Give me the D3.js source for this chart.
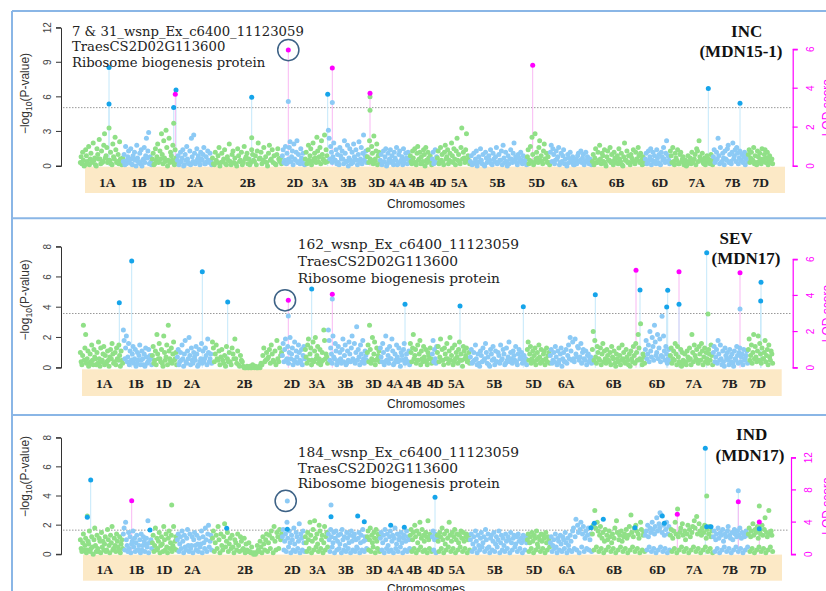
<!DOCTYPE html>
<html>
<head>
<meta charset="utf-8">
<script src="https://cdn.jsdelivr.net/npm/d3@7"></script>
<style>
  body { margin: 0; background: #fff; }
  svg { display: block; }
</style>
</head>
<body>
<script>
// ---- data -------------------------------------------------------------
const chromosomes = ["1A","1B","1D","2A","2B","2D","3A","3B","3D","4A","4B","4D","5A","5B","5D","6A","6B","6D","7A","7B","7D"];
// genetic map length of each chromosome (cM)
const chromLengths = [43,29,25,35,70,23,23,39,13,30,22,5,33,57,23,42,53,25,43,35,25];
// where each chromosome name sits on the map axis (cumulative cM)
const chromLabelPos = [27.3,59,86.7,115,167.7,215,240,268.3,296.7,317.7,336.7,358.3,379.3,417.3,456.7,489.3,536.7,580,616.7,652.7,680.7];

const traitNames = ["INC", "SEV", "IND"];
const environments = ["(MDN15-1)", "(MDN17)", "(MDN17)"];
const markerNotes = [
  ["7 & 31_wsnp_Ex_c6400_11123059", "TraesCS2D02G113600", "Ribosome biogenesis protein"],
  ["162_wsnp_Ex_c6400_11123059", "TraesCS2D02G113600", "Ribosome biogenesis protein"],
  ["184_wsnp_Ex_c6400_11123059", "TraesCS2D02G113600", "Ribosome biogenesis protein"]
];
const pTicks = [[0,3,6,9,12],[0,2,4,6,8],[0,2,4,6,8]];
const lodTicks = [[0,2,4,6],[0,2,4,6],[0,4,8,12]];
const lodThreshold = [3, 3, 3];

// -log10(P) of every marker, in tenths, listed per chromosome in map order
const incBackground = [
  "3 8 2 12 5 0 1 14 9 4 2 17 1 6 11 3 4 20 5 7 1 0 15 10 6 23 6 2 13 3 4 18 28 7 9 16 3 5 33 5 12 2 1 19 8 6 25 14 3 4 10 2 21 6 5 1 7",
  "4 10 1 17 2 5 8 13 3 6 15 2 1 9 6 12 5 0 18 7 4 3 11 2 14 0 5 6 16 3 9 24 7 13 29 2 8 4 1",
  "6 11 1 2 15 5 8 19 3 4 13 6 28 10 2 22 7 4 31 16 0 5 24 3 12 9 5 18 3 1 14 7 2",
  "5 9 1 3 12 4 7 14 0 1 10 5 17 6 3 2 13 1 24 8 4 27 11 2 4 15 6 9 3 1 12 6 5 10 16 2 2 8 4 13 5 3 11 4 1",
  "7 2 1 12 5 3 9 16 0 3 11 4 6 14 2 1 8 5 19 4 1 10 13 3 7 2 0 15 9 4 5 12 1 3 17 6 8 11 2 6 1 3 14 10 5 4 9 1 13 20 6 7 12 2 5 16 4 8 3 0 11 18 5 6 14 3 9 2 1 10 15 6 4 7 2",
  "9 14 3 5 17 2 11 3 6 16 21 4 8 13 1 19 6 5 12 22 3 10 4 2 15 7 5 11 2 1",
  "6 12 2 3 18 5 9 15 1 4 20 6 11 7 3 25 13 4 8 16 2 22 10 6 5 27 3 14 9 4",
  "31 24 6 17 12 3 8 20 5 5 14 2 10 3 1 16 9 6 13 6 2 22 11 4 4 18 0 7 15 5 2 12 3 19 8 6 14 5 1 10 21 4 6 16 2 11 27 5 9 13 3",
  "8 14 3 22 6 5 17 11 2 26 4 6 13 19 1 9 12 4",
  "5 10 1 3 13 4 8 15 0 2 11 5 6 14 3 9 4 1 12 7 5 16 1 2 10 13 4 5 8 1 15 3 6 11 7 2 12 6 3",
  "9 4 2 13 7 3 15 3 1 11 17 5 6 12 2 8 2 4 14 10 0 16 5 3 12 7 6 9 4 1",
  "6 12 2 4 14 3 8",
  "7 13 2 4 16 5 10 3 1 12 18 6 8 14 2 5 11 4 20 9 3 15 6 1 13 24 5 10 4 2 16 33 6 12 7 3 14 28 5 9 5 2",
  "4 9 1 2 11 3 6 13 0 3 8 4 15 5 2 10 1 0 12 7 3 4 9 5 14 2 1 11 6 4 8 16 2 3 10 5 5 13 1 18 7 3 12 4 0 9 2 6 14 6 3 11 20 5 8 3 1 10 7 4 12 5 2 9 4 3 6 1",
  "8 14 2 5 17 4 25 10 1 3 28 6 12 7 3 16 22 5 9 4 2 13 19 6 6 11 3 8 3 1",
  "12 18 4 15 10 2 5 13 6 8 16 1 3 11 4 9 14 2 6 2 0 10 7 3 12 4 5 8 1 1 3 6 2 9 11 4 5 13 3 7 10 1 4 12 5 8 3 2 6 2 1",
  "4 10 1 7 15 3 3 12 5 18 6 2 11 9 4 14 2 0 8 13 5 5 16 3 10 4 1 12 7 6 3 9 2 15 6 4 11 1 0 8 20 5 5 13 3 9 3 1 10 7 4 14 4 2 12 6 5 16 9 3 11 5 1 8 2 4",
  "6 11 2 3 13 5 8 15 1 5 12 4 9 4 2 14 7 3 10 2 1 12 8 5 16 6 3 11 22 4 9 5 2",
  "13 9 3 16 4 1 11 7 5 14 2 2 10 12 4 6 8 1 3 5 0 1 9 3 4 7 2 12 3 5 6 10 1 15 13 4 22 8 6 5 11 3 2 7 1 4 9 5 6 3 2 10 5 1",
  "8 14 3 5 12 6 24 9 2 16 3 4 11 7 1 13 6 5 15 18 3 10 4 2 12 20 6 9 14 4 16 11 2 7 13 5 5 10 3 8 12 1 6 9 4",
  "10 14 3 7 12 5 5 16 2 9 3 1 13 8 4 11 6 2 15 4 6 10 14 3 7 12 1 5 9 4 3 6 2"
];
const sevBackground = [
  "10 4 2 8 28 5 13 22 3 6 11 1 3 9 4 15 5 2 12 7 6 2 10 3 17 6 1 13 4 5 9 14 2 8 3 4 11 5 1 7 12 6 16 9 3 4 10 2 13 6 5 15 8 1 11 5 3",
  "25 18 6 13 21 4 7 16 2 11 4 5 9 14 3 6 12 1 3 10 5 8 15 2 5 11 6 2 9 1 13 7 3 4 12 5 8 6 2",
  "8 14 3 5 11 2 22 9 6 16 6 4 12 3 1 21 10 5 7 15 2 28 11 6 4 13 3 9 17 5 6 10 2",
  "7 12 2 4 10 5 15 6 1 9 18 4 3 11 6 20 8 2 13 5 3 10 7 5 14 9 1 2 12 4 6 16 3 11 4 6 13 8 2 19 10 4 6 9 3",
  "17 13 4 9 15 6 5 11 2 7 12 5 3 8 1 14 6 4 10 4 2 13 9 6 19 6 3 11 2 1 8 5 4 1 0 0 0 1 0 0 1 0 0 2 1 0 1 0 0 0 1 0 3 2 8 13 4 5 10 6 7 12 3 15 9 5 4 11 2 18 6 4 13 8 10",
  "8 16 4 12 19 5 6 14 3 10 20 6 9 13 2 5 17 4 11 7 3 15 10 5 4 12 2 8 14 6",
  "12 7 3 15 19 5 9 13 2 5 17 4 11 20 6 8 14 3 6 12 2 4 10 5 25 18 6 9 7 3",
  "25 18 5 13 9 3 21 7 6 16 11 2 4 14 5 10 6 3 12 19 4 8 15 2 3 11 5 17 9 4 13 21 6 5 16 3 10 27 5 12 7 2 15 9 4 18 6 3 11 8 5",
  "10 15 4 28 12 3 6 20 5 9 17 2 5 13 6 8 11 4",
  "13 7 4 16 10 2 4 21 5 12 8 3 14 6 6 19 11 2 3 9 5 15 7 4 13 5 1 10 8 5 12 16 3 6 9 4 4 11 2",
  "16 10 4 13 22 6 8 12 3 5 15 5 9 18 2 11 6 4 14 7 5 12 4 2 10 8 6 13 6 3",
  "9 18 4 12 6 3 14",
  "10 14 4 7 19 5 12 5 2 13 9 6 16 6 3 11 20 5 8 13 2 4 15 6 10 7 3 12 17 5 9 5 1 14 11 6 8 13 4 6 10 3",
  "7 12 3 4 10 5 15 6 2 9 3 1 11 8 4 13 5 6 16 10 3 7 2 1 12 9 5 14 6 2 11 4 4 10 8 3 15 5 6 12 9 2 3 13 5 7 17 4 10 6 3 11 8 5 14 4 2 9 12 6 7 10 3 5 8 4 6 2",
  "12 17 5 9 14 3 6 11 4 8 13 2 5 10 6 15 7 3 12 4 5 9 11 2 6 13 4 8 10 3",
  "8 12 3 5 10 4 14 7 2 11 3 5 9 13 1 6 10 4 4 12 3 8 15 6 20 11 5 17 6 4 19 9 7 14 13 5 7 16 3 10 12 6 5 11 2 8 9 4 6 7 3",
  "12 24 5 18 7 3 14 10 6 5 13 2 9 16 4 11 6 3 12 8 5 4 10 2 14 7 6 11 3 1 9 6 4 13 8 2 5 15 6 10 4 3 12 7 5 2 9 1 11 6 4 14 8 3 16 10 5 22 13 6 29 5 2 9 7 3",
  "12 18 6 9 15 4 24 11 7 20 14 5 28 17 8 10 22 6 13 19 4 8 34 7 21 11 5 14 9 3 6 12 4",
  "8 13 3 6 11 5 16 9 2 14 7 4 3 12 1 10 5 3 9 4 2 11 7 5 13 6 2 22 10 4 15 8 6 12 5 3 14 9 5 16 11 2 7 13 4 10 6 3 12 9 5 15 8 2",
  "10 14 4 7 12 3 18 9 5 15 6 2 11 4 1 13 8 6 10 5 2 12 7 4 9 3 1 11 6 5 14 8 3 10 13 4 7 9 2 12 5 6 8 11 3",
  "12 19 5 8 15 3 10 22 6 14 7 4 11 21 5 16 9 3 13 6 6 10 18 4 8 12 2 15 7 5 11 9 3"
];
const indBackground = [
  "10 4 2 8 14 3 6 11 1 3 9 7 16 2 4 12 5 0 10 18 6 2 13 4 2 11 9 1 15 5 9 3 7 12 2 3 17 10 6 1 13 8 19 3 4 11 6 2 14 9 5 3 12 1 7 10 4",
  "14 18 3 22 10 6 2 15 4 12 1 7 9 16 5 11 2 8 13 3 3 6 10 1 14 3 6 12 9 2 7 11 5 23 1 8 8 10 4",
  "8 13 2 6 18 3 11 4 9 15 1 6 12 7 2 19 10 3 14 5 1 11 16 4 8 13 2 6 19 4 9 12 3",
  "10 14 2 7 12 4 16 9 1 13 5 3 11 17 6 2 14 4 6 12 1 10 15 6 3 13 7 2 11 5 7 16 1 12 8 4 18 10 2 14 20 5 9 13 3",
  "11 16 2 8 13 4 19 10 1 14 6 3 12 21 5 9 15 2 7 11 4 13 5 1 10 8 3 14 6 2 12 9 3 4 11 1 7 3 2 8 2 1 5 1 0 1 0 1 6 3 2 9 5 1 12 7 3 10 14 2 8 13 4 16 11 1 19 9 3 15 12 4 17 10 14",
  "12 17 3 9 14 2 22 11 5 16 8 1 13 10 3 18 7 2 15 12 4 9 21 1 14 11 3 16 8 2",
  "12 8 2 15 10 4 22 13 1 9 17 3 23 11 5 14 7 2 20 16 4 10 13 1 8 19 3 12 15 5",
  "14 10 2 17 12 5 8 15 1 11 16 3 9 13 4 7 14 1 17 10 3 12 6 2 15 11 4 8 13 1 16 9 3 12 14 2 10 5 4 11 15 1 8 13 3 17 9 2 12 10 4",
  "12 16 3 10 18 2 13 8 5 15 11 1 17 9 4 14 12 2",
  "11 15 3 8 13 1 17 10 4 14 6 2 12 16 3 9 13 1 11 18 4 7 14 2 10 12 5 15 8 1 11 13 3 9 16 2 12 10 4",
  "13 17 2 10 15 4 20 12 1 16 8 3 14 22 5 11 17 2 13 9 3 15 12 1 23 10 4 14 12 2",
  "12 16 3 10 14 1 11",
  "13 9 2 15 12 4 18 10 1 14 7 3 16 11 5 22 13 2 9 15 4 12 17 1 10 14 3 8 13 5 16 11 2 15 9 4 12 14 1 10 13 3",
  "10 14 2 7 12 4 16 9 1 13 6 3 11 15 5 8 12 2 17 10 4 14 5 1 11 13 3 9 15 2 7 12 5 10 16 1 8 13 3 11 6 2 14 9 4 12 10 1 15 8 3 11 13 5 7 12 2 14 9 4 11 8 1 13 10 3 12 8",
  "10 14 2 8 12 4 15 9 1 13 11 3 16 7 5 12 10 2 14 9 4 13 11 1 15 8 3 12 10 5",
  "8 12 2 6 10 4 14 5 1 11 9 3 13 7 2 12 10 4 15 8 1 11 6 3 13 9 2 16 18 4 12 24 3 20 15 1 17 22 5 14 19 2 11 16 4 13 18 3 10 14 2",
  "14 20 3 30 18 5 22 16 2 13 19 4 11 15 1 9 17 3 13 10 5 16 12 2 8 14 4 11 18 1 23 15 3 10 13 5 16 9 2 12 14 4 17 11 1 13 19 3 27 15 5 12 18 2 20 16 4 14 11 1 22 17 3 13 15 2",
  "13 16 3 20 12 5 18 15 2 22 17 4 14 19 1 25 16 3 21 18 5 27 15 2 20 13 4 17 22 1 14 19 3",
  "13 17 2 11 16 4 22 14 1 31 12 3 15 18 5 21 13 2 16 10 4 14 20 1 17 12 3 15 19 5 23 18 2 26 14 4 21 16 1 13 18 3 15 20 5 11 17 2 14 19 4 12 16 1",
  "12 16 2 10 14 4 18 11 1 15 13 3 17 9 5 14 12 2 16 19 4 13 11 1 15 10 3 17 14 5 12 16 2 13 18 4 11 15 1 14 12 3 16 13 5",
  "14 18 2 12 16 4 21 13 1 17 15 3 19 11 5 16 14 2 20 13 4 17 25 1 15 12 3 30 14 5 16 13 2"
];

// highlighted markers: [map position (cumulative cM), value, kind]
// kind: b = significant marker with stem, d = significant marker without stem,
//       lb / g = co-located marker, ls = co-located marker with stem, m = QTL peak (LOD)
const incHits = [
  [29, 8.55, "b"], [29, 5.37, "b"],
  [96, 6.6, "b"], [95.3, 3.69, "m"], [93.7, 5.07, "b"], [93.7, 3.7, "g"],
  [171.7, 5.97, "b"], [171.7, 2.46, "g"],
  [208.3, 5.59, "lb"], [208.3, 5.96, "m"],
  [247.7, 6.23, "b"], [252.3, 5.5, "lb"], [252.3, 5.04, "m"],
  [290, 6.0, "g"], [290, 4.84, "g"], [290, 3.74, "m"],
  [452.7, 5.18, "m"],
  [628.3, 6.72, "b"],
  [660, 5.45, "b"]
];
const sevHits = [
  [39.3, 4.3, "b"], [51.7, 7.06, "b"], [122.3, 6.35, "b"], [147.7, 4.35, "b"],
  [208.3, 3.42, "lb"], [208.3, 3.73, "m"],
  [231.7, 5.2, "b"], [252.3, 4.54, "lb"], [252.3, 4.06, "m"],
  [325, 4.19, "b"], [380, 4.08, "b"], [443.3, 4.03, "b"], [515.3, 4.83, "b"],
  [556, 5.4, "m"], [560, 5.14, "b"],
  [587.7, 5.12, "b"], [586.7, 4.01, "b"],
  [599, 5.31, "m"], [599, 4.19, "b"],
  [626.7, 7.6, "b"], [628, 3.55, "g"],
  [660, 3.88, "lb"], [660, 5.26, "m"],
  [681, 5.65, "b"], [680.7, 4.41, "b"]
];
const indHits = [
  [10.7, 5.1, "b"], [7.3, 2.63, "g"], [7.3, 2.54, "d"],
  [51.7, 6.66, "m"], [70, 1.67, "d"], [91.7, 3.38, "g"], [146.7, 1.78, "d"],
  [207.3, 3.66, "lb"], [207.3, 1.72, "d"],
  [251, 3.38, "lb"], [251, 2.58, "d"],
  [277.7, 2.63, "d"], [284.3, 2.24, "d"], [310.7, 2.0, "d"], [324.3, 1.85, "d"],
  [355, 3.91, "b"],
  [511, 1.83, "d"], [514.3, 2.13, "d"], [523.3, 2.4, "d"], [555, 1.83, "d"],
  [580, 2.85, "lb"], [582.3, 2.63, "d"], [584.3, 2.13, "d"],
  [597.3, 4.97, "m"],
  [625.3, 7.27, "b"], [626.7, 4.0, "g"], [626.7, 1.89, "d"], [631, 1.89, "d"],
  [658.3, 4.36, "ls"], [658.3, 6.53, "m"],
  [679.3, 3.31, "g"], [679.3, 4.01, "m"], [679.3, 1.76, "d"]
];
// the candidate marker (TraesCS2D02G113600) in each panel
const circledMarker = [[208.3, 5.96, "m"], [208.3, 3.73, "m"], [207.3, 3.66, "lb"]];

// ---- layout -----------------------------------------------------------
const W = 826, H = 591;
const layout = [
  { base: 166, pTop: 27.7, lodTop: 49.3, rightX: 792.7, bandX: [85, 785], bandY: [166.7, 193], labelDx: 0,
    labelY: 187.2, xTitleY: 207.5, noteX: 72, noteY: 35.8, noteDy: 15.6, noteSize: 13.2,
    t1: [746.7, 36.5], t2: [741, 57], yLabelY: 93.5, circleDx: 0 },
  { base: 367.7, pTop: 246.7, lodTop: 259.3, rightX: 792.7, bandX: [82, 781.7], bandY: [369.3, 396], labelDx: -3,
    labelY: 387.8, xTitleY: 407.6, noteX: 297.7, noteY: 249.3, noteDy: 17, noteSize: 13.8,
    t1: [736, 244], t2: [746, 263.5], yLabelY: 300, circleDx: -3.3 },
  { base: 554.3, pTop: 437.7, lodTop: 457.7, rightX: 791, bandX: [83, 782], bandY: [554.6, 580.7], labelDx: -2.5,
    labelY: 573.8, xTitleY: 592.6, noteX: 297.7, noteY: 457.3, noteDy: 15.5, noteSize: 13.8,
    t1: [751.7, 440], t2: [750, 460.5], yLabelY: 476.5, circleDx: -1.6 }
];
const backgrounds = [incBackground, sevBackground, indBackground];
const hitSets = [incHits, sevHits, indHits];

const COLORS = {
  green: "#90e087", blue: "#8ccaf5", sig: "#15a4ea", mag: "#ff00ff",
  stemBlue: "#c4e8fa", stemMag: "#f9b8f3", band: "#fce9c6", frame: "#8ab6e6", axis: "#333"
};
const SANS = "'Liberation Sans', Arial, sans-serif";
const SERIF = "'Liberation Serif', 'Times New Roman', serif";
const NOTE = "'DejaVu Serif', serif";

const svg = d3.select("body").append("svg").attr("width", W).attr("height", H);
svg.append("rect").attr("width", W).attr("height", H).attr("fill", "#fff");

const totalLen = d3.sum(chromLengths);
const chromStart = chromLengths.map((d, i) => d3.sum(chromLengths.slice(0, i)));
const x = d3.scaleLinear().domain([0, totalLen]).range([80, 773]);

// panel frames
const frame = svg.append("g").attr("stroke", COLORS.frame).attr("stroke-width", 2).attr("fill", "none");
frame.append("line").attr("x1", 12).attr("x2", 12).attr("y1", 11).attr("y2", H);
[11, 218.3, 415].forEach(y => frame.append("line").attr("x1", 12).attr("x2", W).attr("y1", y).attr("y2", y));

const withStem = new Set(["b", "m", "ls"]);
const kindColor = { b: COLORS.sig, d: COLORS.sig, lb: COLORS.blue, ls: COLORS.blue, g: COLORS.green, m: COLORS.mag };

layout.forEach((L, p) => {
  const g = svg.append("g");
  const yP = d3.scaleLinear().domain([0, d3.max(pTicks[p])]).range([L.base, L.pTop]);
  const yL = d3.scaleLinear().domain([0, d3.max(lodTicks[p])]).range([L.base, L.lodTop]);
  const yOf = h => h[2] === "m" ? yL(h[1]) : yP(h[1]);

  // chromosome band
  g.append("rect").attr("x", L.bandX[0]).attr("y", L.bandY[0])
    .attr("width", L.bandX[1] - L.bandX[0]).attr("height", L.bandY[1] - L.bandY[0])
    .attr("fill", COLORS.band);
  g.selectAll(".chr").data(chromosomes).join("text")
    .attr("x", (d, i) => x(chromLabelPos[i]) + L.labelDx).attr("y", L.labelY)
    .attr("text-anchor", "middle").attr("font-family", SERIF).attr("font-weight", "bold")
    .attr("font-size", 13.5).attr("fill", "#222").text(d => d);
  g.append("text").attr("x", 426).attr("y", L.xTitleY).attr("text-anchor", "middle")
    .attr("font-family", SANS).attr("font-size", 12).attr("fill", "#222").text("Chromosomes");

  // LOD threshold
  g.append("line").attr("x1", 63).attr("x2", L.rightX - 2)
    .attr("y1", yL(lodThreshold[p])).attr("y2", yL(lodThreshold[p]))
    .attr("stroke", "#999").attr("stroke-width", 1).attr("stroke-dasharray", "1.5,1.5");

  // stems
  const hits = hitSets[p];
  g.selectAll(".stem").data(hits.filter(h => withStem.has(h[2]))).join("line")
    .attr("x1", h => x(h[0])).attr("x2", h => x(h[0]))
    .attr("y1", L.base).attr("y2", h => yOf(h))
    .attr("stroke", h => h[2] === "m" ? COLORS.stemMag : COLORS.stemBlue).attr("stroke-width", 1);

  // background markers
  const pts = [];
  backgrounds[p].forEach((s, c) => {
    const vals = s.trim().split(/\s+/).map(v => +v / 10);
    vals.forEach((v, i) => pts.push({
      pos: chromStart[c] + (i + 0.5) * chromLengths[c] / vals.length, v, c
    }));
  });
  g.selectAll(".bg").data(pts).join("circle")
    .attr("cx", d => x(d.pos)).attr("cy", d => yP(d.v)).attr("r", 2.5)
    .attr("fill", d => d.c % 2 === 0 ? COLORS.green : COLORS.blue);

  // left axis: -log10(P)
  const la = g.append("g").attr("transform", "translate(61,0)")
    .call(d3.axisLeft(yP).tickValues(pTicks[p]).tickSize(5).tickFormat(d3.format("d")));
  la.select(".domain").attr("stroke", COLORS.axis);
  la.selectAll(".tick").attr("transform", null);
  la.selectAll(".tick line").attr("stroke", COLORS.axis).attr("y1", d => yP(d)).attr("y2", d => yP(d));
  la.selectAll(".tick text").attr("font-family", SANS).attr("font-size", 10).attr("fill", "#444")
    .attr("text-anchor", "middle").attr("x", null).attr("y", 0).attr("dy", "0.32em")
    .attr("transform", d => `translate(-13,${yP(d)}) rotate(-90)`);

  const yl = g.append("text").attr("transform", `translate(29,${L.yLabelY}) rotate(-90)`)
    .attr("text-anchor", "middle").attr("font-family", SANS).attr("font-size", 12).attr("fill", "#333");
  yl.append("tspan").text("\u2212log");
  yl.append("tspan").attr("font-size", 8.5).attr("dy", 3).text("10");
  yl.append("tspan").attr("dy", -3).text("(P-value)");

  // right axis: LOD
  const ra = g.append("g").attr("transform", `translate(${L.rightX},0)`)
    .call(d3.axisRight(yL).tickValues(lodTicks[p]).tickSize(5).tickFormat(d3.format("d")));
  ra.select(".domain").attr("stroke", COLORS.mag).attr("stroke-width", 1.2);
  ra.selectAll(".tick").attr("transform", null);
  ra.selectAll(".tick line").attr("stroke", COLORS.mag).attr("stroke-width", 1.2)
    .attr("y1", d => yL(d)).attr("y2", d => yL(d));
  ra.selectAll(".tick text").attr("font-family", SANS).attr("font-size", 10).attr("fill", COLORS.mag)
    .attr("text-anchor", "middle").attr("x", null).attr("y", 0).attr("dy", "0.32em")
    .attr("transform", d => `translate(18,${yL(d)}) rotate(-90)`);
  g.append("text").attr("transform", `translate(831,${(L.base + L.lodTop) / 2}) rotate(-90)`)
    .attr("text-anchor", "middle").attr("font-family", SANS).attr("font-size", 12)
    .attr("fill", COLORS.mag).text("LOD score");

  // highlighted markers
  g.selectAll(".hit").data(hits).join("circle")
    .attr("cx", h => x(h[0])).attr("cy", h => yOf(h)).attr("r", 2.5)
    .attr("fill", h => kindColor[h[2]]);

  // candidate gene marker
  const cm = circledMarker[p];
  g.append("circle").attr("cx", x(cm[0]) + L.circleDx).attr("cy", yOf(cm)).attr("r", 10.6)
    .attr("fill", "none").attr("stroke", "#3d6286").attr("stroke-width", 1.5);

  // marker note
  g.append("g").selectAll("text").data(markerNotes[p]).join("text")
    .attr("x", L.noteX).attr("y", (d, i) => L.noteY + i * L.noteDy)
    .attr("font-family", NOTE).attr("font-size", L.noteSize).attr("fill", "#222").text(d => d);

  // trait / environment
  g.append("text").attr("x", L.t1[0]).attr("y", L.t1[1]).attr("text-anchor", "middle")
    .attr("font-family", SERIF).attr("font-weight", "bold").attr("font-size", 17).attr("fill", "#111")
    .text(traitNames[p]);
  g.append("text").attr("x", L.t2[0]).attr("y", L.t2[1]).attr("text-anchor", "middle")
    .attr("font-family", SERIF).attr("font-weight", "bold").attr("font-size", 17).attr("fill", "#111")
    .text(environments[p]);
});
</script>
</body>
</html>
